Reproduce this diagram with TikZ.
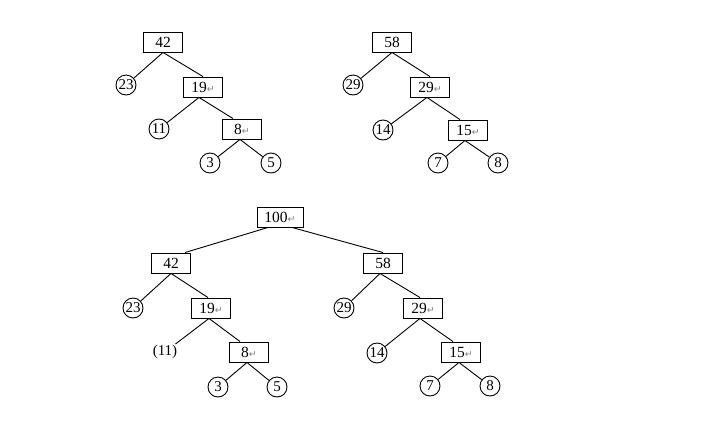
\documentclass[tikz,border=0pt]{standalone}
\usepackage{fontspec}
\setmainfont{Liberation Serif}
\newfontfamily\symfont{DejaVu Sans}
\usetikzlibrary{positioning}
\newcommand{\ret}{{\symfont\fontsize{9.5}{9.5}\selectfont\color{gray}↵}}

\begin{document}
\begin{tikzpicture}[x=1pt, y=-1pt,
    hbox/.style={draw, line width=0.9pt, minimum width=39pt, minimum height=20pt, inner sep=0pt, font=\fontsize{15.5}{17}\selectfont},
    hleaf/.style={draw, circle, line width=0.9pt, minimum size=20pt, inner sep=0pt, font=\fontsize{15}{17}\selectfont},
    hedge/.style={line width=0.9pt}]
    \useasboundingbox[fill=white] (0,0) rectangle (704,421);
    % first tree: 42
    \node[hbox] (a42) at (163,42) {42};
    \node[hleaf] (a23) at (126,85) {23};
    \node[hbox] (a19) at (203,87) {19\ret};
    \node[hleaf] (a11) at (159,129) {11};
    \node[hbox] (a8) at (242,129) {8\ret};
    \node[hleaf] (a3) at (210,163) {3};
    \node[hleaf] (a5) at (271,163) {5};
    \draw[hedge] (a42.south) -- (a23);
    \draw[hedge] (a42.south) -- (a19.north);
    \draw[hedge] ([xshift=-4pt]a19.south) -- (a11);
    \draw[hedge] ([xshift=-4pt]a19.south) -- ([xshift=-9pt]a8.north);
    \draw[hedge] ([xshift=-2pt]a8.south) -- (a3);
    \draw[hedge] ([xshift=-2pt]a8.south) -- (a5);
    % second tree: 58
    \node[hbox] (b58) at (392,42) {58};
    \node[hleaf] (b29) at (353,85) {29};
    \node[hbox] (b29r) at (430,87) {29\ret};
    \node[hleaf] (b14) at (383,130) {14};
    \node[hbox] (b15) at (468,130) {15\ret};
    \node[hleaf] (b7) at (438,163) {7};
    \node[hleaf] (b8) at (498,163) {8};
    \draw[hedge] (b58.south) -- (b29);
    \draw[hedge] (b58.south) -- (b29r.north);
    \draw[hedge] ([xshift=-3pt]b29r.south) -- (b14);
    \draw[hedge] ([xshift=-3pt]b29r.south) -- ([xshift=-8pt]b15.north);
    \draw[hedge] ([xshift=-3pt]b15.south) -- (b7);
    \draw[hedge] ([xshift=-3pt]b15.south) -- (b8);
    % merged tree: 100
    \node[hbox, minimum width=46pt] (c100) at (280,217) {100\ret};
    \node[hbox] (c42) at (171,263) {42};
    \node[hleaf] (c23) at (133,308) {23};
    \node[hbox] (c19) at (211,308) {19\ret};
    \node[font=\fontsize{15}{17}\selectfont, inner sep=1pt] (c11) at (165,352) {(11)};
    \node[hbox] (c8) at (249,352) {8\ret};
    \node[hleaf] (c3) at (218,387) {3};
    \node[hleaf] (c5) at (277,387) {5};
    \node[hbox] (c58) at (383,263) {58};
    \node[hleaf] (c29) at (344,308) {29};
    \node[hbox] (c29r) at (423,308) {29\ret};
    \node[hleaf] (c14) at (377,353) {14};
    \node[hbox] (c15) at (461,352) {15\ret};
    \node[hleaf] (c7) at (430,386) {7};
    \node[hleaf] (c8r) at (490,386) {8};
    \draw[hedge] ([xshift=-12pt]c100.south) -- ([xshift=14pt]c42.north);
    \draw[hedge] ([xshift=12pt]c100.south) -- (c58.north);
    \draw[hedge] (c42.south) -- (c23);
    \draw[hedge] (c42.south) -- ([xshift=-3pt]c19.north);
    \draw[hedge] ([xshift=-2pt]c19.south) -- (c11);
    \draw[hedge] ([xshift=-2pt]c19.south) -- ([xshift=-9pt]c8.north);
    \draw[hedge] ([xshift=-2pt]c8.south) -- (c3);
    \draw[hedge] ([xshift=-2pt]c8.south) -- (c5);
    \draw[hedge] ([xshift=-3pt]c58.south) -- (c29);
    \draw[hedge] ([xshift=-3pt]c58.south) -- ([xshift=-3pt]c29r.north);
    \draw[hedge] ([xshift=-3pt]c29r.south) -- (c14);
    \draw[hedge] ([xshift=-3pt]c29r.south) -- ([xshift=-8pt]c15.north);
    \draw[hedge] ([xshift=-2pt]c15.south) -- (c7);
    \draw[hedge] ([xshift=-2pt]c15.south) -- (c8r);
\end{tikzpicture}
\end{document}
